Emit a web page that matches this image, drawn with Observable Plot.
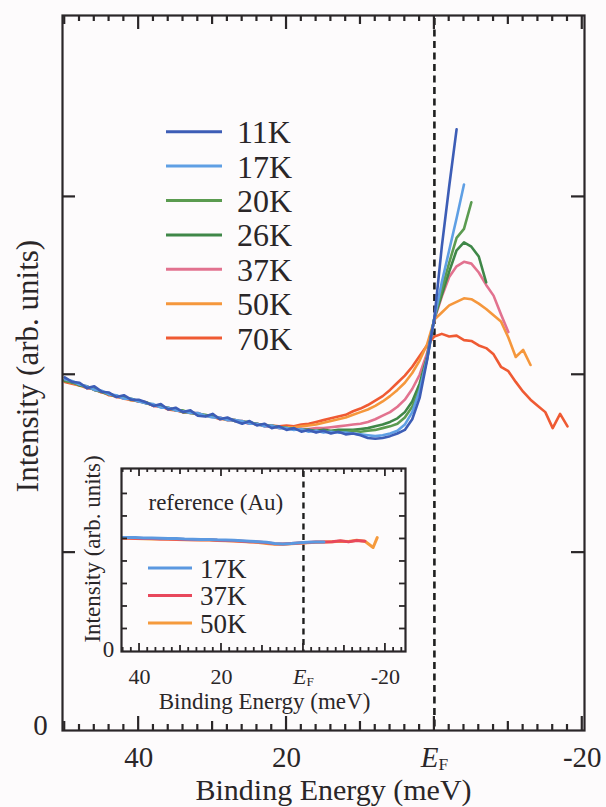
<!DOCTYPE html>
<html>
<head>
<meta charset="utf-8">
<script src="https://cdn.jsdelivr.net/npm/d3@7"></script>
<script src="https://cdn.jsdelivr.net/npm/@observablehq/plot@0.6"></script>
<style>
  html, body { margin: 0; padding: 0; background: #fdfbfc; }
  #chart { position: relative; width: 606px; height: 807px; overflow: hidden; }
  #chart > svg { position: absolute; overflow: visible; }
</style>
</head>
<body>
<div id="chart"></div>
<script>
// Binding energy grid (meV) shared by all temperature curves
const energy = [
  50, 49, 48, 47, 46, 45, 44, 43, 42, 41,
  40, 39, 38, 37, 36, 35, 34, 33, 32, 31,
  30, 29, 28, 27, 26, 25, 24, 23, 22, 21,
  20, 19, 18, 17, 16, 15, 14, 13, 12, 11,
  10, 9, 8, 7, 6, 5, 4, 3, 2, 1,
  0, -1, -2, -3, -4, -5, -6, -7, -8, -9,
  -10, -11, -12, -13, -14, -15, -16, -17, -18, -19,
  -20
];

// Photoemission intensity (arb. units) on the grid above, one list per temperature
const k11 = [
  1.985, 1.96, 1.955, 1.925, 1.935, 1.905, 1.90, 1.875, 1.885, 1.86,
  1.86, 1.845, 1.825, 1.835, 1.805, 1.815, 1.79, 1.80, 1.77, 1.765,
  1.78, 1.75, 1.76, 1.74, 1.725, 1.74, 1.715, 1.725, 1.70, 1.71,
  1.69, 1.70, 1.68, 1.69, 1.675, 1.685, 1.67, 1.68, 1.665, 1.67,
  1.66, 1.645, 1.64, 1.645, 1.655, 1.67, 1.69, 1.75, 1.87, 2.08,
  2.32, 2.72, 3.06, 3.38
];
const k17 = [
  1.975, 1.965, 1.945, 1.935, 1.915, 1.91, 1.89, 1.885, 1.865, 1.865,
  1.85, 1.84, 1.835, 1.815, 1.815, 1.80, 1.795, 1.785, 1.785, 1.77,
  1.76, 1.76, 1.745, 1.745, 1.74, 1.725, 1.725, 1.71, 1.715, 1.70,
  1.70, 1.69, 1.695, 1.68, 1.685, 1.675, 1.68, 1.675, 1.675, 1.67,
  1.665, 1.66, 1.655, 1.66, 1.67, 1.685, 1.72, 1.79, 1.91, 2.09,
  2.32, 2.52, 2.70, 2.88, 3.07
];
const k20 = [
  1.97, 1.955, 1.945, 1.93, 1.92, 1.905, 1.89, 1.88, 1.87, 1.865,
  1.85, 1.845, 1.83, 1.82, 1.815, 1.80, 1.80, 1.785, 1.78, 1.775,
  1.765, 1.755, 1.755, 1.74, 1.735, 1.735, 1.72, 1.715, 1.715, 1.705,
  1.70, 1.695, 1.69, 1.69, 1.68, 1.685, 1.68, 1.68, 1.68, 1.685,
  1.68, 1.685, 1.69, 1.70, 1.71, 1.725, 1.76, 1.82, 1.92, 2.085,
  2.32, 2.48, 2.63, 2.77, 2.82, 2.97
];
const k26 = [
  1.965, 1.96, 1.94, 1.935, 1.915, 1.905, 1.89, 1.88, 1.875, 1.86,
  1.855, 1.84, 1.83, 1.825, 1.81, 1.805, 1.79, 1.79, 1.78, 1.77,
  1.77, 1.755, 1.75, 1.745, 1.735, 1.73, 1.725, 1.715, 1.71, 1.705,
  1.70, 1.695, 1.69, 1.69, 1.685, 1.69, 1.685, 1.69, 1.69, 1.69,
  1.695, 1.70, 1.71, 1.72, 1.735, 1.755, 1.79, 1.85, 1.95, 2.10,
  2.32, 2.45, 2.58, 2.70, 2.745, 2.72, 2.665, 2.52
];
const k37 = [
  1.97, 1.955, 1.945, 1.925, 1.92, 1.90, 1.895, 1.875, 1.87, 1.86,
  1.85, 1.845, 1.825, 1.82, 1.815, 1.80, 1.795, 1.785, 1.785, 1.77,
  1.765, 1.76, 1.745, 1.745, 1.735, 1.725, 1.725, 1.71, 1.71, 1.70,
  1.70, 1.695, 1.695, 1.695, 1.70, 1.70, 1.705, 1.71, 1.715, 1.72,
  1.725, 1.735, 1.75, 1.77, 1.79, 1.82, 1.86, 1.92, 2.00, 2.12,
  2.31, 2.44, 2.55, 2.61, 2.635, 2.625, 2.575, 2.505, 2.445, 2.34,
  2.24
];
const k50 = [
  1.965, 1.955, 1.94, 1.925, 1.92, 1.90, 1.89, 1.875, 1.87, 1.855,
  1.855, 1.84, 1.83, 1.82, 1.81, 1.805, 1.79, 1.785, 1.78, 1.77,
  1.765, 1.755, 1.745, 1.745, 1.735, 1.73, 1.72, 1.72, 1.71, 1.705,
  1.705, 1.705, 1.71, 1.715, 1.72, 1.73, 1.74, 1.75, 1.76, 1.775,
  1.79, 1.805, 1.825, 1.85, 1.88, 1.915, 1.955, 2.01, 2.08, 2.17,
  2.31, 2.35, 2.39, 2.41, 2.43, 2.425, 2.40, 2.37, 2.335, 2.30,
  2.21, 2.10, 2.14, 2.055
];
const k70 = [
  1.96, 1.95, 1.94, 1.935, 1.915, 1.905, 1.885, 1.88, 1.865, 1.86,
  1.85, 1.845, 1.825, 1.825, 1.805, 1.80, 1.79, 1.79, 1.775, 1.77,
  1.765, 1.75, 1.755, 1.74, 1.74, 1.725, 1.725, 1.715, 1.715, 1.71,
  1.715, 1.71, 1.72, 1.725, 1.735, 1.745, 1.755, 1.765, 1.775, 1.795,
  1.81, 1.83, 1.855, 1.88, 1.915, 1.955, 1.995, 2.045, 2.105, 2.165,
  2.215, 2.23, 2.215, 2.22, 2.195, 2.19, 2.165, 2.15, 2.115, 2.045,
  2.02, 1.96, 1.905, 1.86, 1.825, 1.79, 1.70, 1.78, 1.71
];

// Temperatures in drawing order (warmest underneath) and their colours
const temps = ["70K", "50K", "37K", "26K", "20K", "17K", "11K"];
const tempValues = [k70, k50, k37, k26, k20, k17, k11];
const tempColors = ["#ef5a33", "#f5973c", "#e2728f", "#3f8748", "#5b9b50", "#5f9fe4", "#3d5db6"];

// Gold reference spectra for the inset
const auEnergy = [
  45, 43, 41, 39, 37, 35, 33, 31, 29, 27,
  25, 23, 21, 19, 17, 15, 13, 11, 9, 7,
  5, 3, 1, -1, -3, -5, -7, -9, -11, -13,
  -15, -17, -18
];
const au17 = [
  5.07, 5.06, 5.06, 5.04, 5.04, 5.03, 5.02, 5.02, 5.00, 4.99,
  4.98, 4.98, 4.96, 4.95, 4.94, 4.92, 4.90, 4.88, 4.85, 4.80,
  4.78, 4.80, 4.83, 4.85, 4.86, 4.86
];
const au37 = [
  5.04, 5.04, 5.03, 5.02, 5.02, 5.00, 5.00, 4.99, 4.98, 4.97,
  4.96, 4.96, 4.94, 4.93, 4.92, 4.90, 4.88, 4.86, 4.83, 4.79,
  4.78, 4.80, 4.82, 4.84, 4.86, 4.87, 4.88, 4.92, 4.87, 4.93,
  4.90
];
const au50 = [
  5.03, 5.03, 5.02, 5.01, 5.00, 5.00, 4.99, 4.98, 4.97, 4.96,
  4.95, 4.95, 4.93, 4.92, 4.91, 4.89, 4.87, 4.84, 4.80, 4.77,
  4.76, 4.79, 4.81, 4.83, 4.85, 4.86, 4.88, 4.90, 4.89, 4.94,
  4.90, 4.62, 5.06
];
const auTemps = ["50K", "37K", "17K"];
const auValues = [au50, au37, au17];
const auColors = ["#f59a3c", "#e8485c", "#5b98e0"];

// Axis tick values
const xMajorTicks = [40, 20, 0, -20];
const xMidTicks = [50, 30, 10, -10];
const xMinorTicks = [48, 46, 44, 42, 38, 36, 34, 32, 28, 26, 24, 22, 18, 16, 14, 12, 8, 6, 4, 2,
                     -2, -4, -6, -8, -12, -14, -16, -18];
const yTicks = [1, 2, 3];
const insetXMinorTicks = [44, 42, 38, 36, 34, 32, 28, 26, 24, 22, 18, 16, 14, 12, 8, 6, 4, 2,
                          -2, -4, -6, -8, -12, -14, -16, -18, -22, -24];
const insetXMidTicks = [30, 10, -10];
const insetYTicks = [1, 2, 3, 4, 5, 6, 7];
const xTickLabel = d => (d === 0 ? "EF" : String(d));

const serif = '"Liberation Serif", "Times New Roman", serif';
const ink = "#2a2628";

function toRows(names, lists, grid) {
  const out = [];
  names.forEach((name, s) => lists[s].forEach((v, i) => out.push({temp: name, energy: grid[i], intensity: v})));
  return out;
}

// Writes the Fermi-level label as an italic E with a small subscript F
function subscriptEF(svg) {
  d3.select(svg).selectAll("text").filter(function () { return this.textContent === "EF"; })
    .each(function () {
      const t = d3.select(this);
      t.text(null);
      t.append("tspan").attr("font-style", "italic").text("E");
      t.append("tspan").attr("font-size", "0.6em").attr("dy", "0.18em").text("F");
    });
}

// Inward ticks on all four sides of the frame, placed with the plot's own scales
function frameTicks(plot, xGroups, yVals, yLen, width) {
  const sx = plot.scale("x"), sy = plot.scale("y");
  const [xa, xb] = sx.range;
  const [ya, yb] = sy.range;
  const yBottom = Math.max(ya, yb), yTop = Math.min(ya, yb);
  const xLeft = Math.min(xa, xb), xRight = Math.max(xa, xb);
  const g = d3.select(plot).append("g")
    .attr("stroke", ink).attr("stroke-width", width).attr("fill", "none");
  for (const [vals, len] of xGroups) {
    for (const v of vals) {
      const x = sx.apply(v);
      g.append("line").attr("x1", x).attr("x2", x).attr("y1", yBottom).attr("y2", yBottom - len);
      g.append("line").attr("x1", x).attr("x2", x).attr("y1", yTop).attr("y2", yTop + len);
    }
  }
  for (const v of yVals) {
    const y = sy.apply(v);
    g.append("line").attr("x1", xLeft).attr("x2", xLeft + yLen).attr("y1", y).attr("y2", y);
    g.append("line").attr("x1", xRight).attr("x2", xRight - yLen).attr("y1", y).attr("y2", y);
  }
}

const chart = document.getElementById("chart");

// ---- main spectra ----
const mainW = 606, mainH = 807;

const main = Plot.plot({
  width: mainW,
  height: mainH,
  marginLeft: 62, marginRight: 22, marginTop: 15, marginBottom: 77,
  x: {domain: [50.3, -20.3], axis: null},
  y: {domain: [0, 4.02], axis: null},
  color: {domain: temps, range: tempColors},
  style: {background: "#fdfbfc", fontFamily: serif, color: ink},
  marks: [
    Plot.ruleX([0], {x: d => d, stroke: "#1e1e1e", strokeWidth: 2.6, strokeDasharray: "7,4.5", insetTop: 3}),
    Plot.line(toRows(temps, tempValues, energy), {
      x: "energy", y: "intensity", z: "temp", stroke: "temp",
      strokeWidth: 2.6, strokeLinejoin: "round", strokeLinecap: "round"
    }),
    Plot.frame({stroke: ink, strokeWidth: 2.2}),
    Plot.text(xMajorTicks, {x: d => d, text: xTickLabel, frameAnchor: "bottom", lineAnchor: "bottom", dy: 36, fontSize: 29, fill: ink}),
    Plot.text([0], {y: d => d, text: d => String(d), frameAnchor: "left", textAnchor: "middle", dx: -22, dy: -5, fontSize: 29, fill: ink}),
    Plot.text(["Binding Energy (meV)"], {frameAnchor: "bottom", textAnchor: "middle", lineAnchor: "bottom", dx: 10, dy: 69, fontSize: 30, fill: ink}),
    Plot.text(["Intensity (arb. units)"], {frameAnchor: "left", textAnchor: "middle", rotate: -90, dx: -34, dy: -7, fontSize: 31, fill: ink})
  ]
});
frameTicks(main, [[xMinorTicks, 6], [xMidTicks, 9], [xMajorTicks, 14]], yTicks, 13, 2.2);
subscriptEF(main);
main.style.left = "0px";
main.style.top = "0px";
chart.appendChild(main);

// ---- inset: Au reference ----
const inW = 340, inH = 265;

const inset = Plot.plot({
  width: inW,
  height: inH,
  marginLeft: 46, marginRight: 10, marginTop: 23, marginBottom: 59,
  x: {domain: [44.4, -24.9], axis: null},
  y: {domain: [0, 8.13], axis: null},
  color: {domain: auTemps, range: auColors},
  style: {background: "transparent", fontFamily: serif, color: ink},
  marks: [
    Plot.ruleX([0], {x: d => d, stroke: "#1e1e1e", strokeWidth: 2.4, strokeDasharray: "6,4.5", insetTop: 3}),
    Plot.line(toRows(auTemps, auValues, auEnergy), {
      x: "energy", y: "intensity", z: "temp", stroke: "temp",
      strokeWidth: 3, strokeLinejoin: "round", clip: true
    }),
    Plot.frame({stroke: ink, strokeWidth: 2.2}),
    Plot.text(xMajorTicks, {x: d => d, text: xTickLabel, frameAnchor: "bottom", lineAnchor: "bottom", dy: 32, fontSize: 22, fill: ink}),
    Plot.text([0], {y: d => d, text: d => String(d), frameAnchor: "left", textAnchor: "middle", dx: -13, dy: -2, fontSize: 23, fill: ink}),
    Plot.text(["Binding Energy (meV)"], {frameAnchor: "bottom", textAnchor: "middle", lineAnchor: "bottom", dx: 1, dy: 57, fontSize: 23, fill: ink}),
    Plot.text(["Intensity (arb. units)"], {frameAnchor: "left", textAnchor: "middle", rotate: -90, dx: -29, dy: -11, fontSize: 23, fill: ink}),
    Plot.text(["reference (Au)"], {frameAnchor: "top-left", textAnchor: "start", lineAnchor: "middle", dx: 27, dy: 34, fontSize: 23, fill: ink})
  ]
});
frameTicks(inset, [[insetXMinorTicks, 4], [insetXMidTicks, 6], [xMajorTicks, 8]], insetYTicks, 6, 1.8);
subscriptEF(inset);
inset.style.left = "75px";
inset.style.top = "445px";
chart.appendChild(inset);

// ---- legends ----
const legend = d3.create("svg")
  .attr("width", mainW).attr("height", mainH)
  .style("left", "0px").style("top", "0px")
  .attr("font-family", serif).attr("fill", ink);

const mainKeys = temps.slice().reverse();
const mainKeyColors = tempColors.slice().reverse();
mainKeys.forEach((t, i) => {
  const y = 131.7 + i * 34.4;
  legend.append("line").attr("x1", 166).attr("x2", 222).attr("y1", y).attr("y2", y)
    .attr("stroke", mainKeyColors[i]).attr("stroke-width", 3);
  legend.append("text").attr("x", 237).attr("y", y).attr("dy", "0.36em")
    .attr("font-size", 32).text(t);
});

const auKeys = auTemps.slice().reverse();
const auKeyColors = auColors.slice().reverse();
auKeys.forEach((t, i) => {
  const y = 568 + i * 27.5;
  legend.append("line").attr("x1", 148).attr("x2", 192).attr("y1", y).attr("y2", y)
    .attr("stroke", auKeyColors[i]).attr("stroke-width", 3.2);
  legend.append("text").attr("x", 200).attr("y", y).attr("dy", "0.36em")
    .attr("font-size", 27).text(t);
});
chart.appendChild(legend.node());
</script>
</body>
</html>
